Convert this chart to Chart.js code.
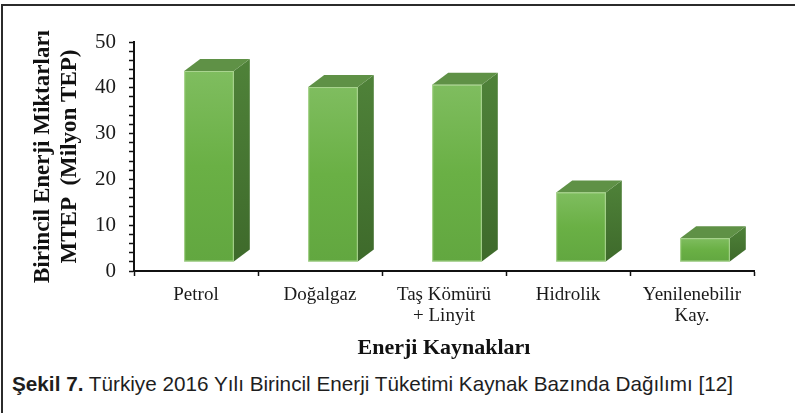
<!DOCTYPE html>
<html>
<head>
<meta charset="utf-8">
<script src="https://cdn.jsdelivr.net/npm/chart.js@4"></script>
<style>
  html, body { margin: 0; padding: 0; background: #fff; }
  #wrap { position: relative; width: 795px; height: 413px; overflow: hidden; }
  #chart { position: absolute; left: 0; top: 0; }
  #frame {
    position: absolute; left: 1px; top: 4px; width: 820px; height: 430px;
    border-top: 2px solid #2b2b2b; border-left: 2px solid #2b2b2b;
    pointer-events: none;
  }
  #caption {
    position: absolute; left: 12px; top: 372px; white-space: nowrap;
    font-family: "Liberation Sans Narrow", "Arial Narrow", "Liberation Sans", Arial, sans-serif;
    font-size: 21px; color: #1e1e1e; transform-origin: 0 0;
  }
</style>
</head>
<body>
<div id="wrap">
  <canvas id="chart" width="795" height="370"></canvas>
  <div id="caption"><b>Şekil 7.</b> Türkiye 2016 Yılı Birincil Enerji Tüketimi Kaynak Bazında Dağılımı [12]</div>
  <div id="frame"></div>
</div>
<script>
// data (Mtep)
const categories = ['Petrol', 'Doğalgaz', ['Taş Kömürü', '+ Linyit'], 'Hidrolik', ['Yenilenebilir', 'Kay.']];
const values = [41.7, 38.2, 38.7, 15.2, 5.2];
const yTicks = [0, 10, 20, 30, 40, 50];

const serif = '"Liberation Serif", "Times New Roman", serif';
Chart.defaults.font.family = serif;

// fake excel-style 3d columns drawn over the (hidden) native bars
const bar3d = {
  id: 'bar3d',
  afterDatasetsDraw(chart) {
    const ctx = chart.ctx;
    const dx = 16, dy = 12;   // depth of the box
    const lift = 9;           // front face sits a bit above the axis line
    const shift = 13;         // front face is pushed right of the category centre
    chart.getDatasetMeta(0).data.forEach(el => {
      const { x, y, base, width } = el.getProps(['x', 'y', 'base', 'width'], true);
      const l = x - width / 2 + shift, r = l + width;
      const t = y - lift, b = base - lift;
      ctx.save();

      // side
      let g = ctx.createLinearGradient(0, t - dy, 0, b);
      g.addColorStop(0, '#4f8239');
      g.addColorStop(1, '#3e6a2b');
      ctx.fillStyle = g;
      ctx.beginPath();
      ctx.moveTo(r, t); ctx.lineTo(r + dx, t - dy); ctx.lineTo(r + dx, b - dy); ctx.lineTo(r, b);
      ctx.closePath(); ctx.fill();

      // top
      ctx.fillStyle = '#5f9146';
      ctx.beginPath();
      ctx.moveTo(l, t); ctx.lineTo(l + dx, t - dy); ctx.lineTo(r + dx, t - dy); ctx.lineTo(r, t);
      ctx.closePath(); ctx.fill();

      // front
      g = ctx.createLinearGradient(0, t, 0, b);
      g.addColorStop(0, '#7fbd5f');
      g.addColorStop(0.5, '#6ab045');
      g.addColorStop(1, '#62a740');
      ctx.fillStyle = g;
      ctx.fillRect(l, t, width, b - t);
      ctx.strokeStyle = 'rgba(175,215,150,0.9)';
      ctx.lineWidth = 1;
      ctx.strokeRect(l + 0.5, t + 0.5, width - 1, b - t - 1);

      ctx.restore();
    });
  }
};

new Chart(document.getElementById('chart'), {
  type: 'bar',
  data: {
    labels: categories,
    datasets: [{
      label: 'Birincil Enerji',
      data: values,
      backgroundColor: 'rgba(0,0,0,0)',
      categoryPercentage: 1,
      barPercentage: 0.4
    }]
  },
  options: {
    responsive: false,
    animation: false,
    layout: { padding: { top: 42, right: 41, left: 0, bottom: 0 } },
    plugins: { legend: { display: false }, tooltip: { enabled: false } },
    scales: {
      x: {
        afterFit: s => { s.height = 99; },
        grid: { drawOnChartArea: false, offset: true, tickLength: 5, tickColor: '#111', tickWidth: 1.5 },
        border: { color: '#111', width: 2 },
        ticks: { color: '#1a1a1a', padding: 9, font: { family: serif, size: 19, lineHeight: 1.1 }, maxRotation: 0 },
        title: {
          display: true, text: 'Enerji Kaynakları', color: '#111',
          font: { family: serif, size: 22, weight: 'bold' }, padding: { top: 0, bottom: 8 }
        }
      },
      y: {
        min: 0, max: 50,
        afterFit: s => { s.width = 134; },
        grid: { drawOnChartArea: false, tickLength: 5, tickColor: '#111', tickWidth: 1.5 },
        border: { color: '#111', width: 2 },
        ticks: {
          stepSize: 2, autoSkip: false, padding: 13, color: '#1a1a1a',
          font: { family: serif, size: 21 },
          callback: v => yTicks.includes(v) ? v : ''
        },
        title: {
          display: true, text: ['Birincil Enerji Miktarları', 'MTEP  (Milyon TEP)'], color: '#111',
          font: { family: serif, size: 23, weight: 'bold', lineHeight: 1.2 }, padding: { top: 29, bottom: 0 }
        }
      }
    }
  },
  plugins: [bar3d]
});

// squeeze the caption to the width it has in the figure
const cap = document.getElementById('caption');
const w = cap.getBoundingClientRect().width;
cap.style.transform = 'scaleX(' + (721 / w) + ')';
</script>
</body>
</html>
